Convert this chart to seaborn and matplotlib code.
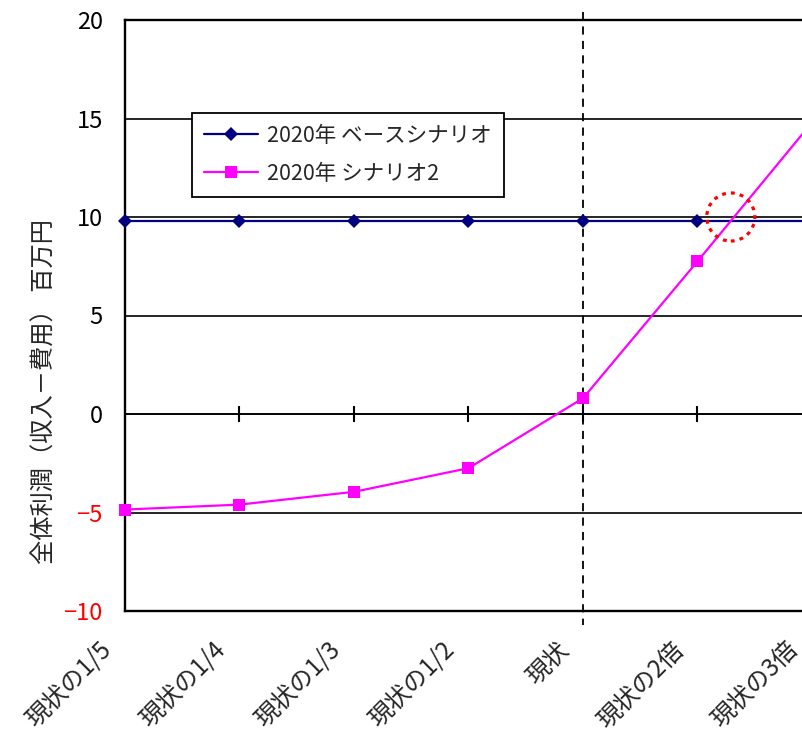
import numpy as np
import pandas as pd
import matplotlib.pyplot as plt
import matplotlib.transforms as mtransforms
import seaborn as sns
from matplotlib.patches import Ellipse

# --- datos ---
categorias = ['現状の1/5', '現状の1/4', '現状の1/3', '現状の1/2', '現状', '現状の2倍', '現状の3倍']
base = [9.8, 9.8, 9.8, 9.8, 9.8, 9.8, 9.8]
escenario2 = [-4.85, -4.6, -3.95, -2.75, 0.8, 7.75, 14.8]
serie_base = '2020年 ベースシナリオ'
serie_esc2 = '2020年 シナリオ2'
y_ticks = [-10, -5, 0, 5, 10, 15, 20]
y_label = '全体利潤（収入－費用） 百万円'
cat_actual = '現状'

sns.set_style('white')
plt.rcParams['font.family'] = ['Noto Sans CJK JP', 'DejaVu Sans']

pos = np.arange(len(categorias))
df = pd.DataFrame({
    'pos': np.concatenate([pos, pos]),
    'valor': base + escenario2,
    'serie': [serie_base] * len(pos) + [serie_esc2] * len(pos),
})

fig = plt.figure(figsize=(8.03, 7.36), dpi=100)
ax = fig.add_axes([125 / 803, 1 - 611 / 736, 687 / 803, 591 / 736])

# rejilla horizontal
ax.set_ylim(-10, 20)
ax.set_xlim(0, len(categorias) - 1)
ax.set_yticks(y_ticks)
ax.yaxis.grid(True, color='black', lw=1.2)
ax.set_axisbelow(True)

# linea vertical discontinua en "現状"
i_act = categorias.index(cat_actual)
ax.plot([i_act, i_act], [20.4, -10.7], ls=(0, (4.5, 3.5)), color='black', lw=1.3, clip_on=False, zorder=2)

# eje en y=0 con marcas
ax.axhline(0, color='black', lw=1.2, zorder=2)
ax.plot(pos[1:], np.zeros(len(pos) - 1), ls='none', marker='|', ms=12, mew=1.5, color='black', zorder=2)

sns.lineplot(data=df, x='pos', y='valor', hue='serie', style='serie',
             palette={serie_base: '#000080', serie_esc2: '#FF00FF'},
             markers={serie_base: 'D', serie_esc2: 's'}, dashes=False,
             sort=False, lw=1.6, markeredgewidth=0, ax=ax, clip_on=False, zorder=4)
for ln in ax.get_lines():
    if ln.get_color() == '#000080':
        ln.set_markersize(7.5)
    elif ln.get_color() == '#FF00FF':
        ln.set_markersize(8.5)

# circulo rojo punteado en la interseccion
x_int = 5 + (base[5] - escenario2[5]) / (escenario2[6] - escenario2[5])
circ = Ellipse((x_int, 10.0), width=0.42, height=2.44, fill=False, edgecolor='red',
               lw=2.3, ls=(0, (1.2, 1.6)), zorder=5)
ax.add_patch(circ)

handles, labels = ax.get_legend_handles_labels()
for h in handles:
    h.set_markeredgewidth(0)
leg = ax.legend(handles, labels, loc='upper left', bbox_to_anchor=(0.0975, 0.8426),
                borderaxespad=0, fontsize=15.5, frameon=True, fancybox=False,
                edgecolor='black', framealpha=1, handlelength=2.5, labelspacing=0.75,
                borderpad=0.55, handletextpad=0.45)
leg.get_frame().set_linewidth(1.3)
leg.set_zorder(6)

ax.set_xticks(pos)
ax.set_xticklabels(categorias, rotation=45, ha='right', va='center', rotation_mode='anchor')
ax.tick_params(axis='x', length=0, pad=25, labelsize=17.5)
ax.tick_params(axis='y', length=0, pad=16, labelsize=17)
desplaz = mtransforms.ScaledTranslation(-0.18, 0, fig.dpi_scale_trans)
for t in ax.get_xticklabels():
    t.set_transform(t.get_transform() + desplaz)
for t, v in zip(ax.get_yticklabels(), y_ticks):
    t.set_color('red' if v < 0 else 'black')

ax.set_xlabel('')
ax.set_ylabel('')
for s in ['left', 'top', 'bottom', 'right']:
    ax.spines[s].set_color('black')
    ax.spines[s].set_linewidth(1.7)

fig.text(45 / 803, 1 - 392 / 736, y_label, rotation=90, ha='center', va='center', fontsize=17.5)

plt.savefig('out.png', dpi=100)
